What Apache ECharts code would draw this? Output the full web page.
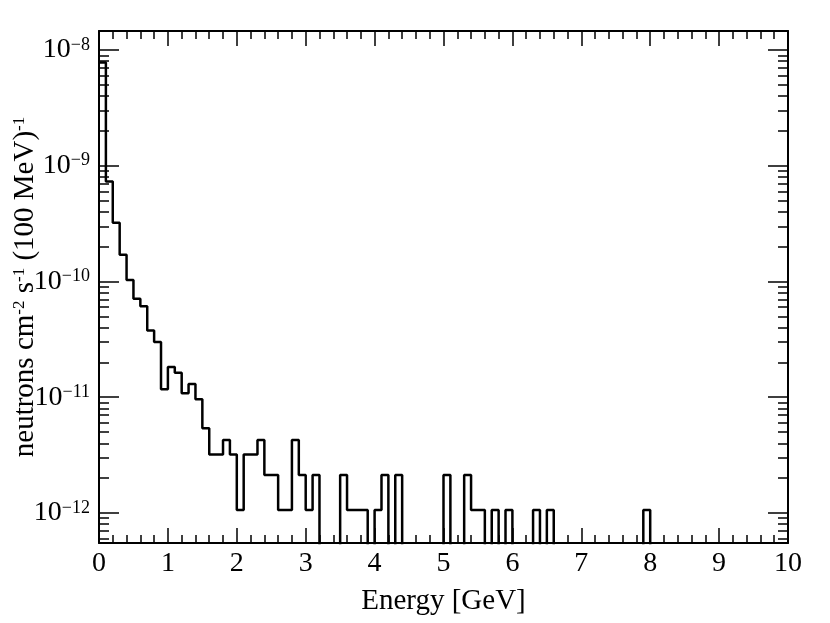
<!DOCTYPE html>
<html>
<head>
<meta charset="utf-8">
<script src="https://cdn.jsdelivr.net/npm/echarts@6/dist/echarts.min.js"></script>
<style>
html,body{margin:0;padding:0;background:#fff;}
#chart{width:830px;height:623px;}
</style>
</head>
<body>
<div id="chart"></div>
<script>
// Bin low edges (GeV), 100 MeV bins, plus the final upper edge
const binEdgesGeV = [
  0.0,0.1,0.2,0.3,0.4,0.5,0.6,0.7,0.8,0.9,
  1.0,1.1,1.2,1.3,1.4,1.5,1.6,1.7,1.8,1.9,
  2.0,2.1,2.2,2.3,2.4,2.5,2.6,2.7,2.8,2.9,
  3.0,3.1,3.2,3.3,3.4,3.5,3.6,3.7,3.8,3.9,
  4.0,4.1,4.2,4.3,4.4,4.5,4.6,4.7,4.8,4.9,
  5.0,5.1,5.2,5.3,5.4,5.5,5.6,5.7,5.8,5.9,
  6.0,6.1,6.2,6.3,6.4,6.5,6.6,6.7,6.8,6.9,
  7.0,7.1,7.2,7.3,7.4,7.5,7.6,7.7,7.8,7.9,
  8.0,8.1,8.2,8.3,8.4,8.5,8.6,8.7,8.8,8.9,
  9.0,9.1,9.2,9.3,9.4,9.5,9.6,9.7,9.8,9.9,
  10.0
];

// Neutron flux per bin (neutrons cm^-2 s^-1 (100 MeV)^-1); 0 = empty bin
const fluxValues = [
  7.8e-9, 7.3e-10, 3.22e-10, 1.70e-10, 1.03e-10, 7.1e-11, 6.1e-11, 3.78e-11, 3.0e-11, 1.17e-11,
  1.82e-11, 1.63e-11, 1.08e-11, 1.3e-11, 9.6e-12, 5.4e-12, 3.2e-12, 3.2e-12, 4.26e-12, 3.2e-12,
  1.06e-12, 3.2e-12, 3.2e-12, 4.26e-12, 2.13e-12, 2.13e-12, 1.06e-12, 1.06e-12, 4.26e-12, 2.13e-12,
  1.06e-12, 2.13e-12, 0, 0, 0, 2.13e-12, 1.06e-12, 1.06e-12, 1.06e-12, 0,
  1.06e-12, 2.13e-12, 0, 2.13e-12, 0, 0, 0, 0, 0, 0,
  2.13e-12, 0, 0, 2.13e-12, 1.06e-12, 1.06e-12, 0, 1.06e-12, 0, 1.06e-12,
  0, 0, 0, 1.06e-12, 0, 1.06e-12, 0, 0, 0, 0,
  0, 0, 0, 0, 0, 0, 0, 0, 0, 1.06e-12,
  0, 0, 0, 0, 0, 0, 0, 0, 0, 0,
  0, 0, 0, 0, 0, 0, 0, 0, 0, 0
];

// Axis ranges and tick values
const xMin = 0, xMax = 10, xInterval = 1;
const yMin = 5.5e-13, yMax = 1.46e-8;
const yMajorTicks = [1e-12, 1e-11, 1e-10, 1e-9, 1e-8];
const yMinorMultipliers = [2, 3, 4, 5, 6, 7, 8, 9];

// Empty bins cannot be drawn on a log axis: send them below the frame (clipped)
const EMPTY_FLOOR = 1e-15;

const yMinorTicks = [];
[1e-13].concat(yMajorTicks).forEach(function (d) {
  yMinorMultipliers.forEach(function (m) {
    const v = m * d;
    if (v > yMin && v < yMax) yMinorTicks.push(v);
  });
});

const stepData = [];
for (let i = 0; i < fluxValues.length; i++) {
  stepData.push([binEdgesGeV[i], fluxValues[i] > 0 ? fluxValues[i] : EMPTY_FLOOR]);
}
stepData.push([binEdgesGeV[fluxValues.length],
  fluxValues[fluxValues.length - 1] > 0 ? fluxValues[fluxValues.length - 1] : EMPTY_FLOOR]);

const FONT = 'Liberation Serif';
const BLACK = '#000';

function expLabel(v) {
  const e = Math.round(Math.log10(v));
  return '{b|10}{e|' + (e < 0 ? '\u2212' + (-e) : e) + '}';
}

const labelRich = {
  b: { fontFamily: FONT, fontSize: 28, color: BLACK, lineHeight: 28, padding: [5, 0, 0, 0], verticalAlign: 'bottom' },
  e: { fontFamily: FONT, fontSize: 18, color: BLACK, lineHeight: 18, verticalAlign: 'top' }
};

function xAxisDef(pos, showLabels) {
  return {
    type: 'value', position: pos, min: xMin, max: xMax, interval: xInterval,
    axisLine: { show: true, onZero: false, lineStyle: { color: BLACK, width: 2 } },
    axisTick: { show: true, inside: true, length: 15, lineStyle: { color: BLACK, width: 1.5 } },
    minorTick: { show: true, splitNumber: 5, length: 8, lineStyle: { color: BLACK, width: 1.5 } },
    axisLabel: { show: showLabels, margin: 7, fontFamily: FONT, fontSize: 28, color: BLACK },
    splitLine: { show: false },
    minorSplitLine: { show: false }
  };
}

function yAxisDef(pos, ticks, len, showLine) {
  return {
    type: 'log', logBase: 10, position: pos, min: yMin, max: yMax,
    axisLine: { show: showLine, onZero: false, lineStyle: { color: BLACK, width: 2 } },
    axisTick: { show: true, inside: true, length: len, customValues: ticks, lineStyle: { color: BLACK, width: 1.5 } },
    axisLabel: { show: false },
    splitLine: { show: false }
  };
}

const yMain = yAxisDef('left', yMajorTicks, 20, true);
yMain.axisLabel = {
  show: true, margin: 9, customValues: yMajorTicks,
  formatter: expLabel, rich: labelRich, fontFamily: FONT, color: BLACK
};
yMain.name = '{t|neutrons cm}{s|-2}{t| s}{s|-1}{t| (100 MeV)}{s|-1}';
yMain.nameLocation = 'middle';
yMain.nameRotate = 90;
yMain.nameGap = 59;
yMain.nameMoveOverlap = false;
yMain.nameTextStyle = {
  fontFamily: FONT, color: BLACK,
  rich: {
    t: { fontFamily: FONT, fontSize: 29, color: BLACK, lineHeight: 29, padding: [6, 0, 0, 0], verticalAlign: 'bottom' },
    s: { fontFamily: FONT, fontSize: 17, color: BLACK, lineHeight: 17, verticalAlign: 'top' }
  }
};

const xMain = xAxisDef('bottom', true);
xMain.name = 'Energy [GeV]';
xMain.nameLocation = 'middle';
xMain.nameGap = 44;
xMain.nameMoveOverlap = false;
xMain.nameTextStyle = { fontFamily: FONT, fontSize: 29, color: BLACK };

const option = {
  backgroundColor: '#fff',
  animation: false,
  grid: { left: 99, right: 42, top: 31, bottom: 80, containLabel: false, outerBoundsMode: 'none' },
  xAxis: [xMain, xAxisDef('top', false)],
  yAxis: [
    yMain,
    yAxisDef('left', yMinorTicks, 10, false),
    yAxisDef('right', yMajorTicks, 20, true),
    yAxisDef('right', yMinorTicks, 10, false)
  ],
  series: [{
    type: 'line',
    xAxisIndex: 0,
    yAxisIndex: 0,
    step: 'end',
    data: stepData,
    showSymbol: false,
    symbol: 'none',
    clip: true,
    lineStyle: { color: BLACK, width: 2.5 },
    z: 5
  }]
};

const chart = echarts.init(document.getElementById('chart'), null, { renderer: 'canvas' });
chart.setOption(option);
</script>
</body>
</html>
